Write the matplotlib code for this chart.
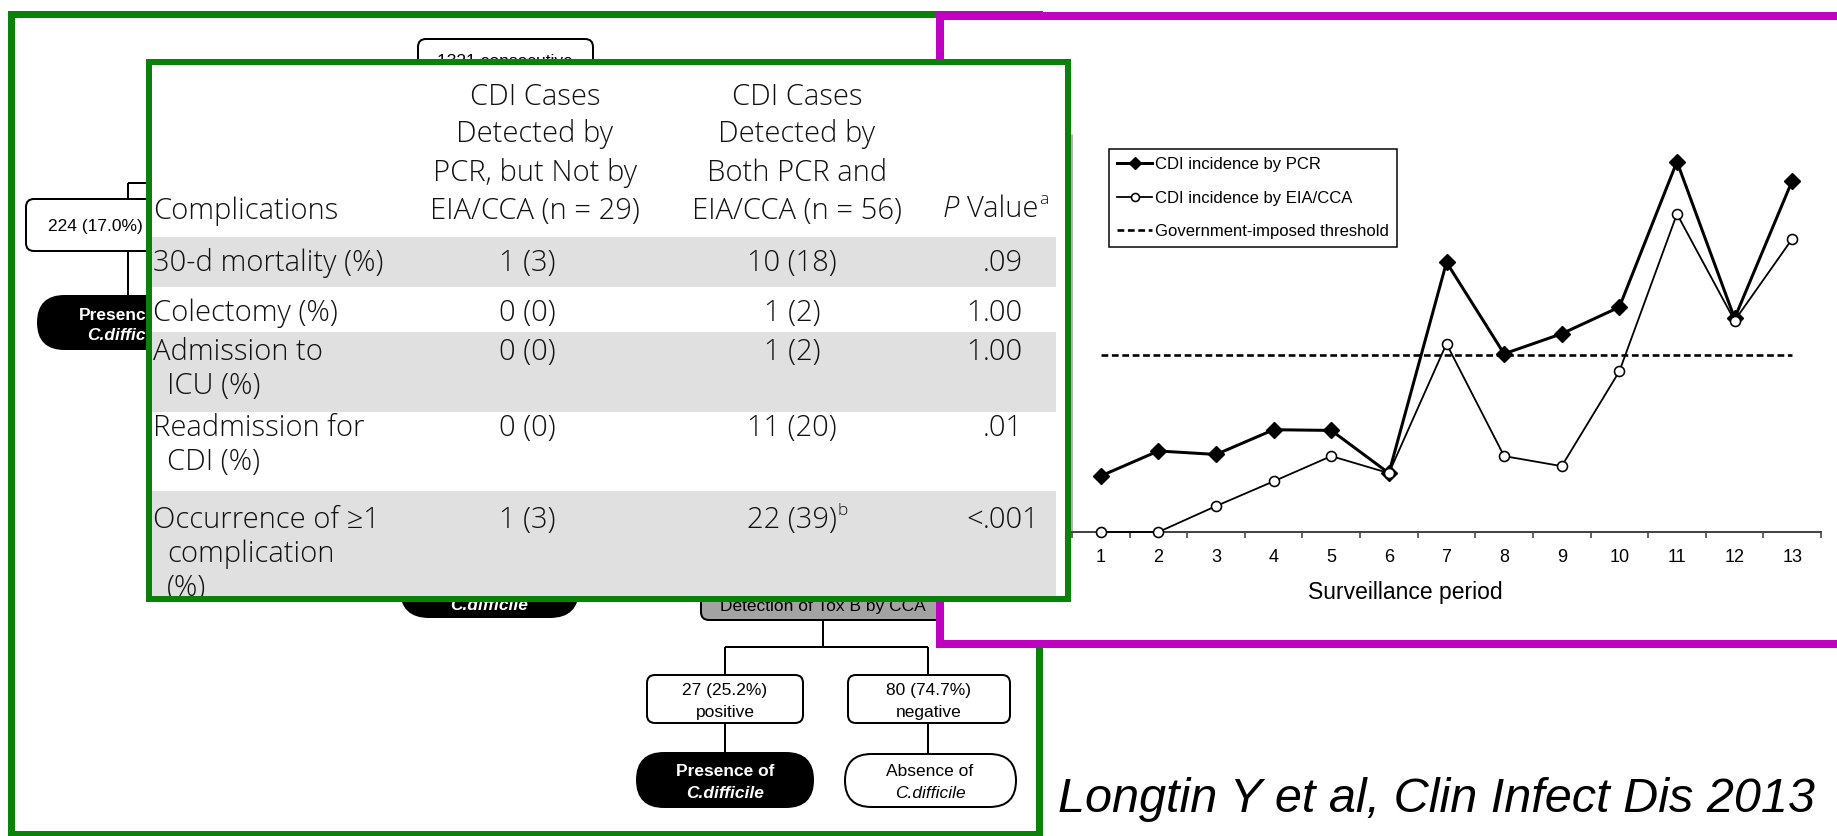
import numpy as np
import matplotlib
matplotlib.use('Agg')
import matplotlib.pyplot as plt
from matplotlib import font_manager
from matplotlib.patches import Rectangle, FancyBboxPatch

# ---- incidence chart (no y scale printed) ----
periods = np.arange(1, 14)
pcr_incidence = [2.40, 3.47, 3.32, 4.38, 4.35, 2.52, 11.55, 7.63, 8.49, 9.63, 15.86, 9.15, 15.04]
eia_incidence = [0.0, 0.0, 1.11, 2.17, 3.25, 2.52, 8.06, 3.25, 2.82, 6.88, 13.62, 9.05, 12.55]
threshold = 7.6
series_labels = ['CDI incidence by PCR', 'CDI incidence by EIA/CCA', 'Government-imposed threshold']
x_label = 'Surveillance period'

# ---- complications table ----
head_first = 'Complications'
head_pcr_only = ['CDI Cases', 'Detected by', 'PCR, but Not by', 'EIA/CCA (n = 29)']
head_both = ['CDI Cases', 'Detected by', 'Both PCR and', 'EIA/CCA (n = 56)']
head_p = ['P', 'Value', 'a']
complications = [['30-d mortality (%)'], ['Colectomy (%)'], ['Admission to', 'ICU (%)'],
                 ['Readmission for', 'CDI (%)'], ['Occurrence of \u22651', 'complication', '(%)']]
pcr_only = ['1 (3)', '0 (0)', '0 (0)', '0 (0)', '1 (3)']
both_tests = ['10 (18)', '1 (2)', '1 (2)', '11 (20)', '22 (39)']
both_notes = ['', '', '', '', 'b']
p_values = ['.09', '1.00', '1.00', '.01', '<.001']

# ---- flowchart pieces peeking out behind (as much as is visible) ----
flow_top = '1321 consecutive'
flow_left = '224 (17.0%)'
flow_left_pill = ['Presenc', 'C.diffic']
flow_pos = ['27 (25.2%)', 'positive']
flow_neg = ['80 (74.7%)', 'negative']
presence = ['Presence of', 'C.difficile']
absence = ['Absence of', 'C.difficile']
tox_b = 'Detection of Tox B by CCA'

citation = 'Longtin Y et al, Clin Infect Dis 2013'

plt.rcParams['font.family'] = ['Liberation Sans', 'DejaVu Sans']


def pick_light():
    # a light sans for the table, if one is installed
    for fam in ['Open Sans', 'Roboto', 'Lato', 'Noto Sans']:
        for f in font_manager.fontManager.ttflist:
            w = f.weight if isinstance(f.weight, int) else font_manager.weight_dict.get(f.weight, 400)
            if f.name == fam + ' Light':
                return f.name, 'normal'
            if f.name == fam and f.style == 'normal' and w == 300:
                return fam, 'light'
    return 'Open Sans', 'normal'


tab_font, tab_weight = pick_light()

W, H = 1837, 836
green = '#0a820a'
magenta = '#c000c0'
band = '#e0e0e0'


def px(v):
    return v * 0.72


fig = plt.figure(figsize=(W / 100, H / 100), dpi=100)
fig.patch.set_facecolor('white')


def overlay(z):
    a = fig.add_axes([0, 0, 1, 1], zorder=z)
    a.set_xlim(0, W)
    a.set_ylim(H, 0)
    a.axis('off')
    a.patch.set_visible(False)
    return a


# ---------------- background: flowchart in green frame ----------------
bg = overlay(0)


def box(x0, y0, x1, y1, r, fc='white'):
    bg.add_patch(FancyBboxPatch((x0, y0), x1 - x0, y1 - y0,
                                boxstyle='round,pad=0,rounding_size=%g' % r,
                                fc=fc, ec='black', lw=px(2)))


def link(xs, ys):
    bg.plot(xs, ys, color='black', lw=px(2), solid_capstyle='butt')


fs = 12.5
# top left branch
link([128, 128], [183, 199])
link([128, 420], [183, 183])
box(26, 199, 230, 251, 8)
bg.text(48, 226, flow_left, ha='left', va='center', fontsize=fs)
link([128, 128], [251, 296])
box(38, 296, 218, 349, 26.5, fc='black')
bg.text(146, 316, flow_left_pill[0], ha='right', va='center', fontsize=fs, color='white', weight='bold')
bg.text(146, 335, flow_left_pill[1], ha='right', va='center', fontsize=fs, color='white', weight='bold', style='italic')
# top box
box(418, 39, 593, 110, 8)
bg.text(505, 61, flow_top, ha='center', va='center', fontsize=fs)
# middle pill + tox B box
box(401, 555, 578, 617, 28, fc='black')
bg.text(489, 606, presence[1], ha='center', va='center', fontsize=fs, color='white', weight='bold', style='italic')
box(701, 540, 945, 620, 8, fc='#a3a3a3')
bg.text(823, 606, tox_b, ha='center', va='center', fontsize=fs)
link([823, 823], [620, 647])
link([725, 928], [647, 647])
link([725, 725], [647, 675])
link([928, 928], [647, 675])
box(647, 675, 803, 723, 8)
box(848, 675, 1010, 723, 8)
for cx, lines in [(725, flow_pos), (929, flow_neg)]:
    bg.text(cx, 690, lines[0], ha='center', va='center', fontsize=fs)
    bg.text(cx, 712, lines[1], ha='center', va='center', fontsize=fs)
link([725, 725], [723, 753])
link([928, 928], [723, 754])
box(637, 753, 813, 807, 27, fc='black')
bg.text(725, 771, presence[0], ha='center', va='center', fontsize=fs, color='white', weight='bold')
bg.text(725, 793, presence[1], ha='center', va='center', fontsize=fs, color='white', weight='bold', style='italic')
box(845, 754, 1016, 807, 26.5)
bg.text(930, 771, absence[0], ha='center', va='center', fontsize=fs)
bg.text(930, 793, absence[1], ha='center', va='center', fontsize=fs, style='italic')

bg.add_patch(Rectangle((11, 13.5), 1039 - 11, 834 - 13.5, fill=False, ec=green, lw=px(7), zorder=5))
bg.text(1815, 812, citation, ha='right', va='baseline', fontsize=35, style='italic')

# ---------------- chart panel in magenta frame ----------------
mid = overlay(1)
mid.add_patch(Rectangle((940, 15.5), 1000, 644 - 15.5, fc='white', ec=magenta, lw=px(8)))

ax = fig.add_axes([1072 / W, 1 - 532 / H, 749 / W, 397 / H], zorder=2)
ax.patch.set_visible(False)
l1, = ax.plot(periods, pcr_incidence, color='black', lw=px(3), marker='D', ms=px(11),
              clip_on=False, zorder=3)
l2, = ax.plot(periods, eia_incidence, color='black', lw=px(1.8), marker='o', ms=px(10),
              mfc='white', mec='black', mew=px(1.6), clip_on=False, zorder=4)
l3, = ax.plot(periods[[0, -1]], np.full(2, threshold), color='black', lw=px(2.6),
              ls=(0, (2.6, 1.4)), zorder=2)
ax.set_xlim(0.5, 13.5)
ax.set_ylim(0, 17)
ax.set_xticks(periods)
ax.set_xticks(np.arange(0.5, 14, 1), minor=True)
ax.tick_params(axis='x', which='major', length=0, pad=12.5, labelsize=13)
ax.tick_params(axis='x', which='minor', length=px(6), width=px(1.5), direction='out', color='#333333')
ax.set_yticks([])
for s in ['top', 'right']:
    ax.spines[s].set_visible(False)
ax.spines['bottom'].set_color('#444444')
ax.spines['bottom'].set_linewidth(px(2))
ax.spines['left'].set_color('#9a9a9a')
ax.spines['left'].set_linewidth(px(1.5))
ax.set_xlabel(x_label, fontsize=16.5)
ax.xaxis.set_label_coords((1405 - 1072) / 749, -(593 - 532) / 397)
ax.xaxis.label.set_va('center')
leg = ax.legend([l1, l2, l3], series_labels, loc='upper left',
                bbox_to_anchor=(1109 / W, 1 - 149 / H), bbox_transform=fig.transFigure,
                borderaxespad=0, fontsize=12, fancybox=False, edgecolor='black', framealpha=1,
                borderpad=0.5, labelspacing=1.1, handlelength=2.1, handletextpad=0.15,
                numpoints=1, markerscale=0.8)
leg.get_frame().set_linewidth(px(1.5))

# ---------------- table on top ----------------
top = overlay(3)
row_tops = [237, 287, 332, 412, 491]
row_bottom = 596
for i, y0 in enumerate(row_tops):
    y1 = row_tops[i + 1] if i + 1 < len(row_tops) else row_bottom
    top.add_patch(Rectangle((152, y0), 1056 - 152, y1 - y0, fc=band if i % 2 == 0 else 'white', ec='none'))
top.add_patch(Rectangle((149, 61.5), 1068 - 149, 599 - 61.5, fc='none', ec=green, lw=px(6), zorder=5))
top.add_patch(Rectangle((149, 61.5), 1068 - 149, 599 - 61.5, fc='white', ec='none', zorder=0))

tk = dict(family=[tab_font, 'DejaVu Sans'], fontweight=tab_weight, fontsize=21, color='#111111', va='center')
head_y = [97, 134, 173, 211]
for j, line in enumerate(head_pcr_only):
    top.text(535, head_y[j], line, ha='center', **tk)
for j, line in enumerate(head_both):
    top.text(797, head_y[j], line, ha='center', **tk)
top.text(153, 211, head_first, ha='left', **tk)
tp = top.text(959, 209, head_p[0], ha='right', style='italic', **tk)
tv = top.text(967, 209, head_p[1], ha='left', **tk)

line1 = [263, 313, 352, 428, 520]
step = 34
both_txt = []
for i, lines in enumerate(complications):
    for j, line in enumerate(lines):
        top.text(153 if j == 0 else 167, line1[i] + j * step, line, ha='left', **tk)
    top.text(527, line1[i], pcr_only[i], ha='center', **tk)
    both_txt.append(top.text(792, line1[i], both_tests[i], ha='center', **tk))
    head, dot, tail = p_values[i].partition('.')
    if head:
        top.text(983, line1[i], head, ha='right', **tk)
    top.text(983, line1[i], dot + tail, ha='left', **tk)

# superscript footnote marks just right of their text
fig.canvas.draw()
sk = dict(tk)
sk['fontsize'] = 12.5
bb = tv.get_window_extent()
top.text(bb.x1 + 1, H - bb.y1 + 6, head_p[2], ha='left', **sk)
for t, note in zip(both_txt, both_notes):
    if note:
        bb = t.get_window_extent()
        top.text(bb.x1 + 1, H - bb.y1 + 6, note, ha='left', **sk)

fig.savefig('out.png', dpi=100, facecolor='white')
